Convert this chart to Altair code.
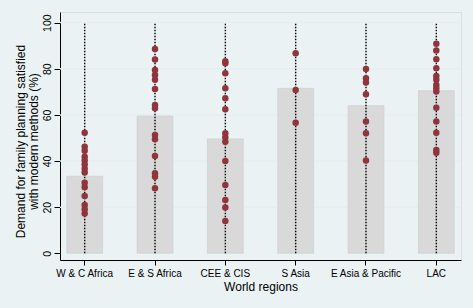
import altair as alt
import pandas as pd

regions = ["W & C Africa", "E & S Africa", "CEE & CIS", "S Asia", "E Asia & Pacific", "LAC"]
bar_values = [33.4, 59.5, 49.6, 71.5, 64.0, 70.5]

wc = [52.3, 46.2, 44.5, 41.9, 40.2, 38.5, 36.7, 35.0, 30.6, 28.6, 24.8, 20.9, 19.1, 17.3]
es = [88.6, 84.0, 79.5, 77.3, 75.2, 71.2, 64.3, 62.9, 51.3, 49.4, 42.2, 34.7, 33.2, 28.2]
cee = [83.3, 82.4, 78.1, 71.6, 67.2, 62.4, 52.0, 50.3, 48.4, 40.0, 29.6, 23.1, 19.9, 14.0]
sa = [86.7, 70.8, 56.6]
eap = [79.9, 75.9, 74.0, 68.9, 57.1, 52.0, 40.2]
lac = [90.8, 87.9, 84.1, 80.2, 76.9, 75.2, 73.0, 71.6, 70.1, 63.1, 57.1, 52.3, 44.8, 43.6]

grid_values = [20, 40, 60, 80, 100]
y_ticks = [0, 20, 40, 60, 80, 100]

dot_lists = [wc, es, cee, sa, eap, lac]
dots = pd.DataFrame(
    [{"region": r, "value": v} for r, vals in zip(regions, dot_lists) for v in vals]
)
bars = pd.DataFrame({"region": regions, "value": bar_values, "zero": [0] * len(regions)})
spikes = pd.DataFrame({"region": regions, "lo": [0] * len(regions), "hi": [100] * len(regions)})
grid = pd.DataFrame({"g": grid_values})

FONT = "Liberation Sans"

xscale = alt.Scale(domain=regions, paddingInner=0.49, paddingOuter=0.096)
xaxis = alt.Axis(
    title="World regions",
    labelAngle=0,
    labelFontSize=10,
    labelColor="black",
    labelPadding=3,
    tickColor="black",
    tickSize=5,
    domainColor="black",
    titleFontSize=12,
    titleFontWeight="normal",
    titleColor="black",
    titleBaseline="top",
    titleY=21,
)
yscale = alt.Scale(domain=[-2.9, 104.6], nice=False, zero=False)
yaxis = alt.Axis(
    title=["Demand for family planning satisfied", "with modern methods (%)"],
    values=y_ticks,
    grid=False,
    labelAngle=270,
    labelAlign="center",
    labelBaseline="bottom",
    labelFontSize=10.5,
    labelColor="black",
    labelPadding=2,
    tickColor="black",
    tickSize=6,
    domainColor="black",
    titleFontSize=12,
    titleFontWeight="normal",
    titleColor="black",
    titleAngle=270,
    titleAlign="center",
    titleBaseline="top",
    titleLineHeight=13,
    titleX=-45,
    titleY=129,
)


def X():
    return alt.X("region:N", sort=regions, scale=xscale, axis=xaxis)


grid_layer = alt.Chart(grid).mark_rule(color="#E6EEF0", strokeWidth=1.5).encode(
    y=alt.Y("g:Q", scale=yscale, axis=yaxis)
)

bar_layer = alt.Chart(bars).mark_bar(color="#D9D9D9", stroke="#CDCDCD", strokeWidth=0.6).encode(
    x=X(),
    y=alt.Y("value:Q", scale=yscale, axis=yaxis),
    y2="zero:Q",
)

spike_layer = alt.Chart(spikes).mark_rule(color="black", strokeWidth=1.4, strokeDash=[1.5, 1.5]).encode(
    x=X(),
    y=alt.Y("lo:Q", scale=yscale, axis=yaxis),
    y2="hi:Q",
)

dot_layer = alt.Chart(dots).mark_circle(color="#90353B", opacity=1, size=42).encode(
    x=X(),
    y=alt.Y("value:Q", scale=yscale, axis=yaxis),
)

chart = (
    alt.layer(grid_layer, bar_layer, spike_layer, dot_layer)
    .properties(
        width=401,
        height=248,
        autosize=alt.AutoSizeParams(type="none"),
        padding={"left": 60, "top": 12, "right": 12, "bottom": 48},
        background="#EAF2F3",
    )
    .configure_view(fill="white", stroke=None)
    .configure(font=FONT)
)

chart.save("out.html", embed_options={"renderer": "svg", "actions": False})
